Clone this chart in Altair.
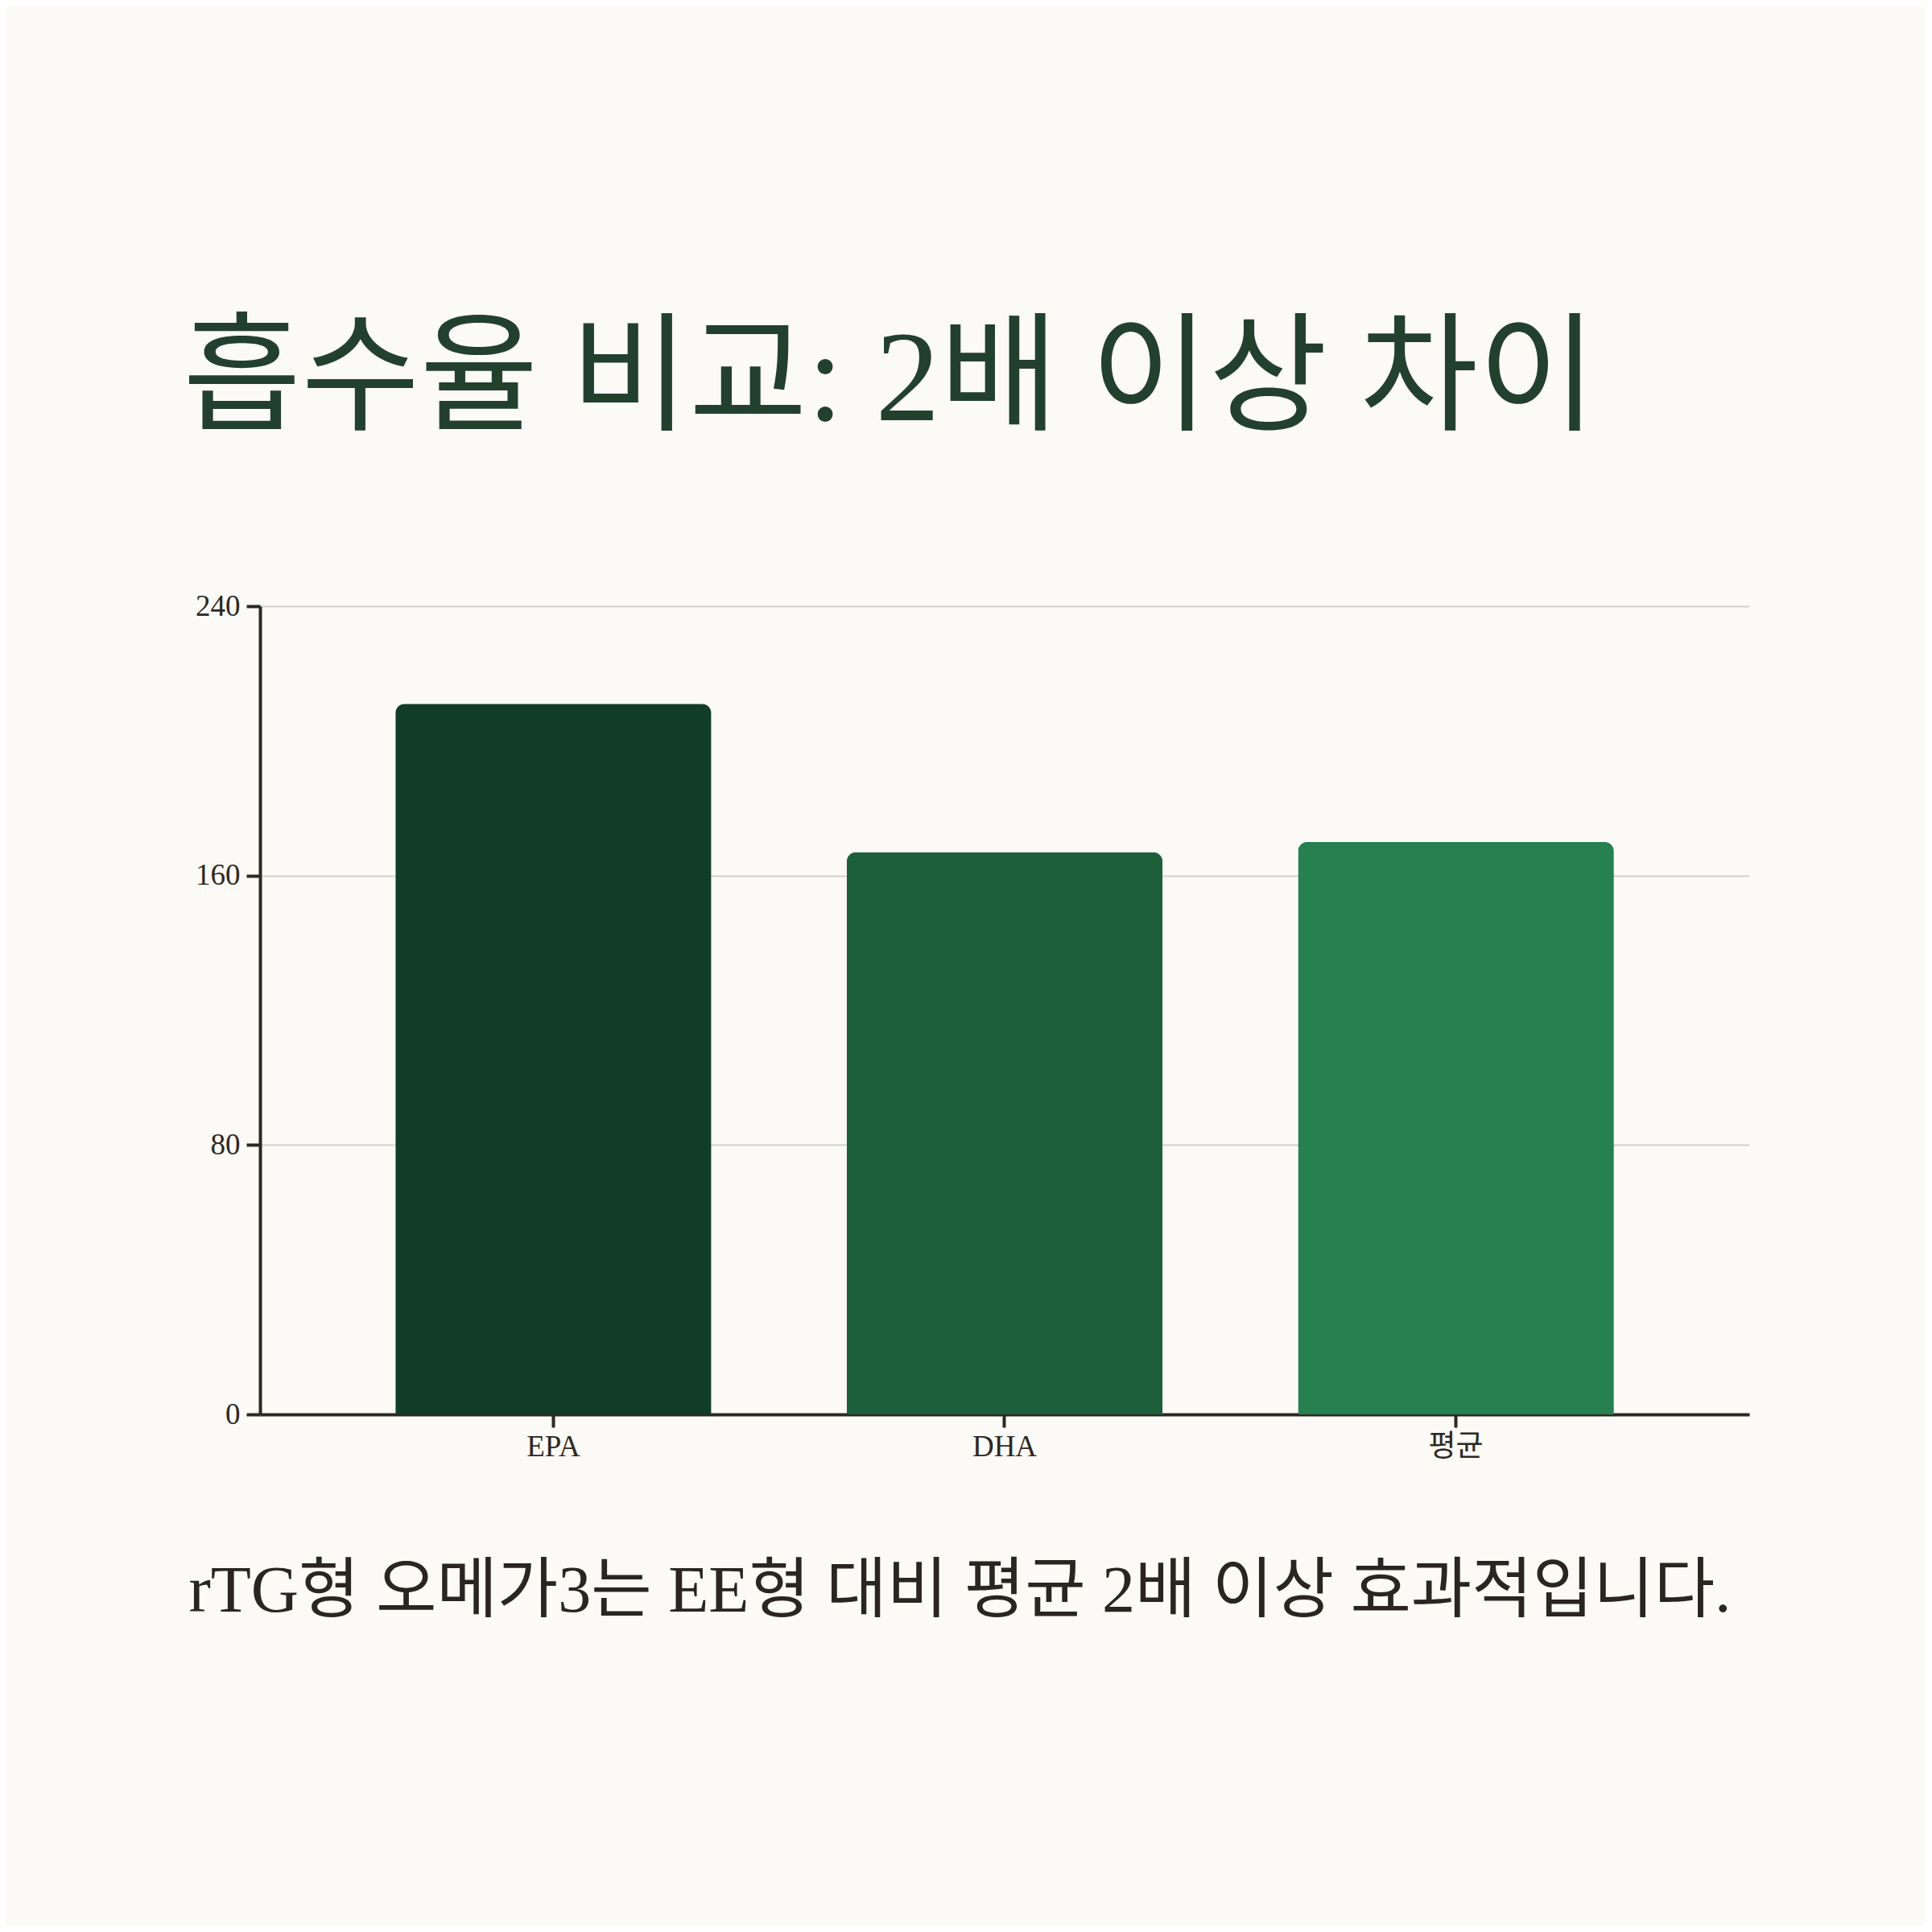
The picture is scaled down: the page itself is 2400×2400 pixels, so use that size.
import altair as alt
import pandas as pd

# 데이터
categorias = ["EPA", "DHA", "평균"]
valores = [211, 167, 170]
cores = ["#113c27", "#1d5e3b", "#268050"]
y_ticks = [0, 80, 160, 240]

titulo = "흡수율 비교: 2배 이상 차이"
legenda = "rTG형 오메가3는 EE형 대비 평균 2배 이상 효과적입니다."

df = pd.DataFrame({"categoria": categorias, "valor": valores})

FONTE_SERIF = "'Liberation Serif', 'Noto Sans CJK KR', serif"
TINTA = "#2d2823"

bars = alt.Chart(df).mark_bar(
    cornerRadiusTopLeft=12, cornerRadiusTopRight=12
).encode(
    x=alt.X(
        "categoria:N",
        sort=categorias,
        scale=alt.Scale(paddingInner=0.3, paddingOuter=0.3),
        axis=alt.Axis(
            title=legenda,
            titleFont=FONTE_SERIF,
            titleFontSize=82,
            titleFontWeight="normal",
            titleColor="#2a2520",
            titleBaseline="alphabetic",
            titlePadding=186,
            titleX=869,
            titleAlign="center",
            labelAngle=0,
            labelFont=FONTE_SERIF,
            labelFontSize=37,
            labelColor=TINTA,
            labelPadding=6,
            tickSize=16,
            tickWidth=4,
            tickColor=TINTA,
            domainWidth=4,
            domainColor=TINTA,
            grid=False,
        ),
    ),
    y=alt.Y(
        "valor:Q",
        scale=alt.Scale(domain=[0, 240], nice=False),
        axis=alt.Axis(
            title=None,
            values=y_ticks,
            labelFont=FONTE_SERIF,
            labelFontSize=37,
            labelColor=TINTA,
            labelPadding=8,
            tickSize=17,
            tickWidth=4,
            tickColor=TINTA,
            domainWidth=4,
            domainColor=TINTA,
            grid=True,
            gridColor="#d2d1cc",
            gridWidth=2,
        ),
    ),
    color=alt.Color(
        "categoria:N",
        scale=alt.Scale(domain=categorias, range=cores),
        legend=None,
    ),
)

chart = bars.properties(
    width=1850,
    height=1004,
    title=alt.TitleParams(
        titulo,
        font=FONTE_SERIF,
        fontSize=160,
        fontWeight="normal",
        color="#23402f",
        anchor="start",
        frame="group",
        baseline="alphabetic",
        offset=52,
        dx=-96,
    ),
    autosize=alt.AutoSizeParams(type="none"),
    padding={"left": 315, "top": 745, "right": 219, "bottom": 635},
    background="#fbfaf6",
).configure_view(stroke=None)

chart.save("out.html", embed_options={"renderer": "svg", "actions": False})
